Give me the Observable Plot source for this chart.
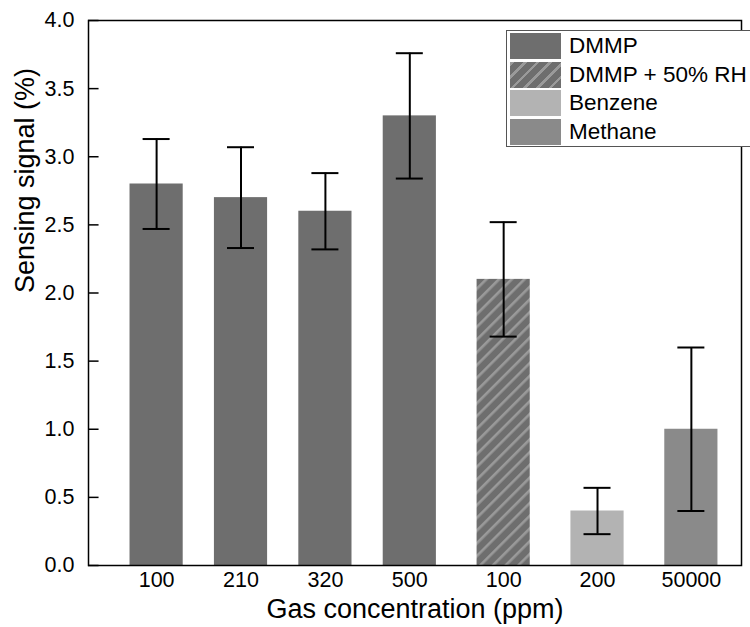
<!DOCTYPE html>
<html>
<head>
<meta charset="utf-8">
<script src="https://cdn.jsdelivr.net/npm/d3@7"></script>
<script src="https://cdn.jsdelivr.net/npm/@observablehq/plot@0.6"></script>
<style>
  html, body { margin: 0; padding: 0; background: #fff; }
  #wrap { position: relative; width: 750px; height: 627px; font-family: "Liberation Sans", Arial, sans-serif; }
  #legend { position: absolute; left: 506px; top: 30px; width: 260px; height: 117px; border: 1px solid #555; background: #fff; box-sizing: border-box; }
  .row { position: absolute; left: 3px; height: 26px; display: flex; align-items: center; }
  .sw { width: 51px; height: 26px; margin-right: 8px; box-sizing: border-box; }
  .lab { font-size: 22.5px; color: #000; }
</style>
</head>
<body>
<div id="wrap"></div>
<script>
const labels = ["100", "210", "320", "500", "100", "200", "50000"];
const groups = ["DMMP", "DMMP", "DMMP", "DMMP", "DMMP + 50% RH", "Benzene", "Methane"];
const values = [2.8, 2.7, 2.6, 3.3, 2.1, 0.4, 1.0];
const errLow = [2.47, 2.33, 2.32, 2.84, 1.68, 0.23, 0.40];
const errHigh = [3.13, 3.07, 2.88, 3.76, 2.52, 0.57, 1.60];
const legendGroups = ["DMMP", "DMMP + 50% RH", "Benzene", "Methane"];
const groupFills = ["#6e6e6e", "url(#hatch)", "#b3b3b3", "#8a8a8a"];
const yTicks = [0, 0.5, 1, 1.5, 2, 2.5, 3, 3.5, 4];

const fillOf = g => groupFills[legendGroups.indexOf(g)];
// slot positions: wider spacing after DMMP group
const slot = i => i < 4 ? i : 3 + (i - 3) * 1.112;
const halfW = 0.315, capW = 0.16;
const xMin = -0.807, xMax = 6.93;

const data = labels.map((l, i) => ({
  i, label: l, group: groups[i], value: values[i], lo: errLow[i], hi: errHigh[i],
  x: slot(i), x1: slot(i) - halfW, x2: slot(i) + halfW, c1: slot(i) - capW, c2: slot(i) + capW,
  fill: fillOf(groups[i])
}));

const defs = () => {
  const svgNS = "http://www.w3.org/2000/svg";
  const d = document.createElementNS(svgNS, "defs");
  d.innerHTML = `<pattern id="hatch" patternUnits="userSpaceOnUse" width="9" height="9" patternTransform="rotate(45)">
      <rect width="9" height="9" fill="#6e6e6e"></rect>
      <rect x="0" y="0" width="2.6" height="9" fill="#9a9a9a"></rect>
    </pattern>`;
  return d;
};

const plot = Plot.plot({
  width: 750,
  height: 627,
  marginLeft: 88,
  marginRight: 9,
  marginTop: 20,
  marginBottom: 62,
  style: { fontFamily: "'Liberation Sans', Arial, sans-serif", fontSize: "21px", color: "#000", background: "#fff" },
  x: { domain: [xMin, xMax], axis: null },
  y: { domain: [0, 4], axis: null },
  marks: [
    defs,
    Plot.rectY(data, { x1: "x1", x2: "x2", y1: 0, y2: "value", fill: d => d.fill }),
    Plot.ruleX(data, { x: "x", y1: "lo", y2: "hi", stroke: "#000", strokeWidth: 2 }),
    Plot.ruleY(data, { x1: "c1", x2: "c2", y: "lo", stroke: "#000", strokeWidth: 2 }),
    Plot.ruleY(data, { x1: "c1", x2: "c2", y: "hi", stroke: "#000", strokeWidth: 2 }),
    Plot.ruleY(yTicks, { x1: xMin, x2: xMin + 0.125, y: d => d, stroke: "#000", strokeWidth: 1.5 }),
    Plot.text(yTicks, { x: xMin, y: d => d, dx: -14, textAnchor: "end", fontSize: 21.5, fill: "#000", text: d3.format(".1f") }),
    Plot.text(data, { x: "x", y: 0, dy: 15, lineAnchor: "middle", fontSize: 21.5, fill: "#000", text: "label" }),
    Plot.text(["Sensing signal (%)"], { frameAnchor: "left", dx: -63, rotate: -90, fontSize: 27, fill: "#000", text: d => d }),
    Plot.text(["Gas concentration (ppm)"], { frameAnchor: "bottom", dy: 44, lineAnchor: "middle", fontSize: 27, fill: "#000", text: d => d }),
    Plot.frame({ stroke: "#000", strokeWidth: 1.5 })
  ]
});

const wrap = document.getElementById("wrap");
wrap.appendChild(plot);

const legend = document.createElement("div");
legend.id = "legend";
legendGroups.forEach((g, k) => {
  const row = document.createElement("div");
  row.className = "row";
  row.style.top = (2 + k * 28.7) + "px";
  const sw = document.createElement("div");
  sw.className = "sw";
  if (k === 1) {
    sw.style.background = "repeating-linear-gradient(-45deg, #6e6e6e 0px, #6e6e6e 6.4px, #9a9a9a 6.4px, #9a9a9a 9px)";
  } else {
    sw.style.background = groupFills[k];
  }
  const lab = document.createElement("span");
  lab.className = "lab";
  lab.textContent = g;
  row.appendChild(sw);
  row.appendChild(lab);
  legend.appendChild(row);
});
wrap.appendChild(legend);
</script>
</body>
</html>
